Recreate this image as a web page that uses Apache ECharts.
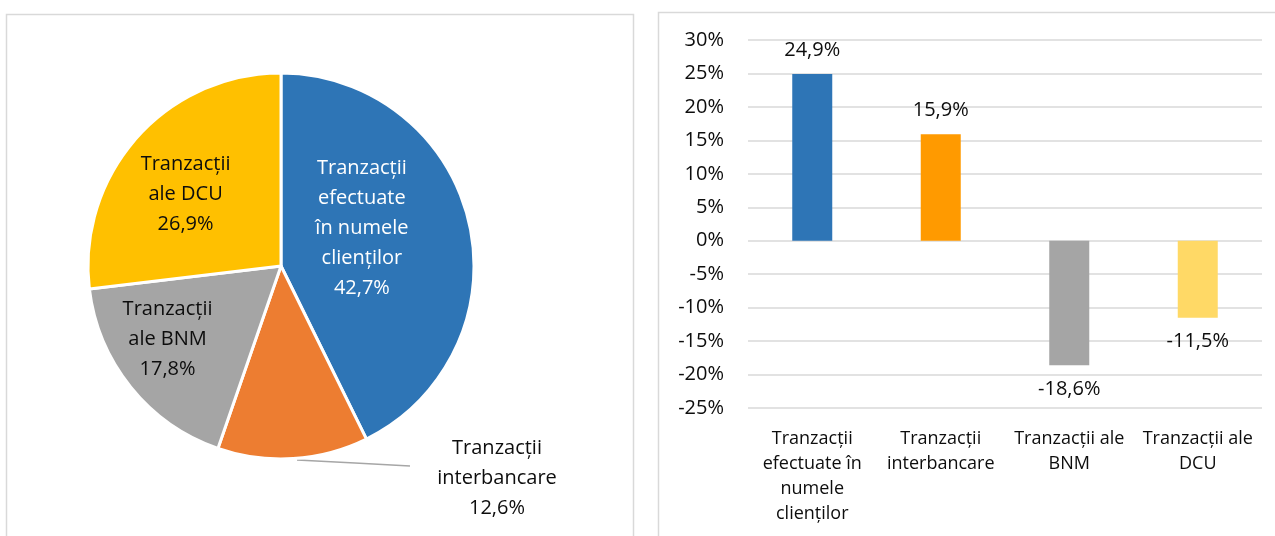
<!DOCTYPE html>
<html>
<head>
<meta charset="utf-8">
<script src="https://cdn.jsdelivr.net/npm/echarts@6/dist/echarts.min.js"></script>
<style>
  html, body { margin: 0; padding: 0; background: #fff; }
  #main { width: 1275px; height: 536px; }
</style>
</head>
<body>
<div id="main"></div>
<script>
// structura tranzactiilor (pie)
var pieNames = ['Tranzacții\nefectuate\nîn numele\nclienților', 'Tranzacții\ninterbancare', 'Tranzacții\nale BNM', 'Tranzacții\nale DCU'];
var pieValues = [42.7, 12.6, 17.8, 26.9];
var pieColors = ['#2E75B6', '#ED7D31', '#A5A5A5', '#FFC000'];

// modificarea anuala (bare)
var barCategories = ['Tranzacții\nefectuate în\nnumele\nclienților', 'Tranzacții\ninterbancare', 'Tranzacții ale\nBNM', 'Tranzacții ale\nDCU'];
var barValues = [24.9, 15.9, -18.6, -11.5];
var barColors = ['#2E75B6', '#FF9A00', '#A5A5A5', '#FFD966'];

var FONT = '"Open Sans", Lato, sans-serif';
var fmt = function (v) { return v.toFixed(1).replace('.', ',') + '%'; };

// deplasari etichete pie (dx, dy fata de pozitia implicita)
var pieShift = [[-16, -15], null, [-36, 11], [-21, -6]];

var chart = echarts.init(document.getElementById('main'));

var option = {
  animation: false,
  textStyle: { fontFamily: FONT },
  graphic: [
    { type: 'rect', shape: { x: 6.5, y: 14.5, width: 627, height: 600 },
      style: { fill: 'none', stroke: '#d9d9d9', lineWidth: 1.5 } },
    { type: 'rect', shape: { x: 658.5, y: 12.5, width: 700, height: 600 },
      style: { fill: 'none', stroke: '#d9d9d9', lineWidth: 1.5 } }
  ],
  grid: { left: 748, right: 13, top: 40, bottom: 128 },
  xAxis: {
    type: 'category',
    data: barCategories,
    axisLine: { show: false },
    axisTick: { show: false },
    axisLabel: { color: '#0d0d0d', fontSize: 18, lineHeight: 25, margin: 18, interval: 0, fontFamily: FONT }
  },
  yAxis: {
    type: 'value',
    min: -25, max: 30, interval: 5,
    axisLine: { show: false },
    axisTick: { show: false },
    splitLine: { lineStyle: { color: '#d9d9d9', width: 1.5 } },
    axisLabel: { color: '#0d0d0d', fontSize: 20, margin: 24, formatter: '{value}%', fontFamily: FONT }
  },
  series: [
    {
      type: 'pie',
      center: [281, 266],
      radius: 193,
      startAngle: 90,
      clockwise: true,
      itemStyle: { borderColor: '#fff', borderWidth: 3 },
      label: {
        position: 'inside',
        fontSize: 20, lineHeight: 30, color: '#0d0d0d', fontFamily: FONT,
        formatter: function (p) { return p.name + '\n' + fmt(p.value); }
      },
      labelLine: { show: false },
      labelLayout: function (p) {
        if (p.dataIndex === 1) {
          return {
            x: 497, y: 478, align: 'center', verticalAlign: 'middle',
            labelLinePoints: [[297, 460], [355, 463], [410, 466]]
          };
        }
        var s = pieShift[p.dataIndex];
        return { dx: s[0], dy: s[1] };
      },
      data: pieValues.map(function (v, i) {
        var item = { name: pieNames[i], value: v, itemStyle: { color: pieColors[i] } };
        if (i === 0) item.label = { color: '#fff' };
        if (i === 1) {
          item.label = { position: 'outside', align: 'center' };
          item.labelLine = { show: true, lineStyle: { color: '#a6a6a6', width: 1.5 } };
        }
        return item;
      })
    },
    {
      type: 'bar',
      barWidth: 40,
      data: barValues.map(function (v, i) {
        return {
          value: v,
          itemStyle: { color: barColors[i] },
          label: { position: v >= 0 ? 'top' : 'bottom' }
        };
      }),
      label: {
        show: true, distance: 14, fontSize: 20, color: '#0d0d0d', fontFamily: FONT,
        formatter: function (p) { return fmt(p.value); }
      }
    }
  ]
};

chart.setOption(option);
</script>
</body>
</html>
